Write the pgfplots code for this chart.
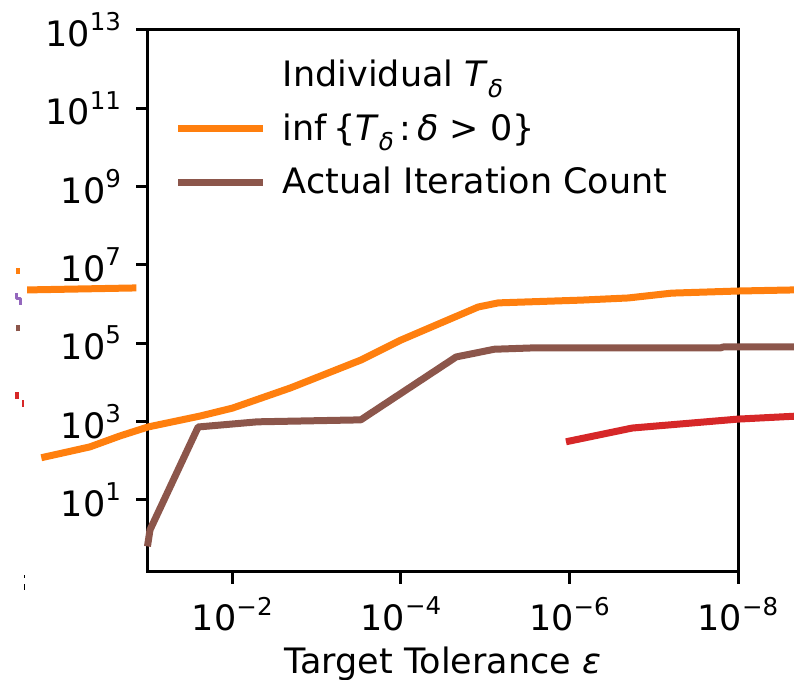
\documentclass[border=0pt]{standalone}
\usepackage{fontspec}
\setmainfont{DejaVu Sans}
\usepackage{pgfplots}
\pgfplotsset{compat=1.18}
\definecolor{cOrange}{HTML}{FF7F0E}
\definecolor{cBrown}{HTML}{8C564B}
\definecolor{cRed}{HTML}{D62728}
\definecolor{cPurple}{HTML}{9467BD}
\newcommand\pw[1]{10\raisebox{0.45em}{\fontsize{12.25}{13}\selectfont #1}}
\newcommand\Td{\textit{T}\raisebox{-0.3em}{\fontsize{12.25}{13}\selectfont\textit{δ}}}
\begin{document}
\begin{tikzpicture}
\begin{axis}[
  at={(0pt,0pt)}, anchor=south west,
  width=295pt, height=271pt, scale only axis,
  clip=false,
  xmode=log, ymode=log, x dir=reverse,
  xmin=1e-8, xmax=0.1, ymin=0.143, ymax=1e13,
  xtick={1e-2,1e-4,1e-6,1e-8},
  xticklabels={\pw{−2},\pw{−4},\pw{−6},\pw{−8}},
  ytick={1e1,1e3,1e5,1e7,1e9,1e11,1e13},
  yticklabels={\pw{1},\pw{3},\pw{5},\pw{7},\pw{9},\pw{11},\pw{13}},
  xminorticks=false, yminorticks=false,
  tick align=outside, tick pos=left,
  major tick length=6pt,
  every tick/.style={black, line width=1.5pt},
  axis line style={line width=1.5pt},
  ticklabel style={font=\fontsize{17.5}{21}\selectfont},
  yticklabel style={xshift=-4pt},
  xticklabel style={yshift=-3pt},
  xlabel={Target Tolerance \textit{ε}},
  xlabel style={font=\fontsize{17.5}{21}\selectfont, inner sep=0pt, yshift=-4.3pt},
  legend cell align=left,
  legend style={draw=none, fill=none, at={(rel axis cs:0.040,0.96)}, anchor=north west,
    font=\fontsize{17.5}{21}\selectfont, row sep=8pt,
    /tikz/every odd column/.append style={column sep=8pt}},
  legend image code/.code={\draw[#1, line width=3.5pt] (0pt,0pt) -- (39pt,0pt);},
  every axis plot/.append style={line width=3.5pt, line cap=rect, line join=round},
]
\addlegendimage{empty legend}
\addlegendentry{Individual \Td}
\addlegendimage{cOrange}
\addlegendentry{inf\,\{\Td\,:\,\textit{δ} > 0\}}
\addlegendimage{cBrown}
\addlegendentry{Actual Iteration Count}

% inf T_delta (orange)
\addplot[cOrange, forget plot] coordinates {
 (1.68,124) (0.49,224) (0.215,427) (0.1,724) (0.024,1380) (0.01,2190)
 (0.00204,7200) (2.99e-4,37000) (1e-4,1.2e5) (1.21e-5,8.4e5) (7.0e-6,1.07e6)
 (7.2e-7,1.26e6) (2e-7,1.43e6) (6.1e-8,1.9e6) (1e-8,2.15e6) (2.04e-9,2.3e6)
};
\addplot[cOrange, forget plot] coordinates {(2.47,2.3e6) (0.151,2.57e6)};
% actual iteration count (brown)
\addplot[cBrown, forget plot] coordinates {
 (0.1,0.79) (0.0947,1.7) (0.0254,724) (5.04e-3,980) (2.99e-4,1100)
 (2.21e-5,44500) (7.8e-6,70000) (2.6e-6,76000) (1.6e-8,76000) (1.5e-8,80000) (2.04e-9,80000)
};
% red
\addplot[cRed, forget plot] coordinates {
 (1e-6,316) (1.8e-7,680) (1e-8,1150) (2.04e-9,1370)
};
% small fragments at the left
\addplot[cOrange, forget plot, line width=2pt, line cap=butt] coordinates {(3.53,5.9e6) (3.53,8.3e6)};
\addplot[cPurple, forget plot, line width=1.5pt, line cap=butt] coordinates {(3.6,1.9e6) (3.6,1.4e6) (3.3,1.4e6) (3.3,9.5e5)};
\addplot[cBrown, forget plot, line width=2pt, line cap=butt] coordinates {(3.53,2.0e5) (3.53,2.9e5)};
\addplot[cRed, forget plot, line width=2pt, line cap=butt] coordinates {(3.6,3700) (3.6,5600)};
\addplot[cRed, forget plot, line width=1pt, line cap=butt] coordinates {(3.0,2350) (3.0,3500)};
\addplot[black, forget plot, line width=0.5pt, dashed, line cap=butt] coordinates {(2.9,0.05) (2.9,0.12)};
\end{axis}
\pgfresetboundingbox
\path (-74pt,-54pt) rectangle (323pt,286pt);
\end{tikzpicture}
\end{document}
